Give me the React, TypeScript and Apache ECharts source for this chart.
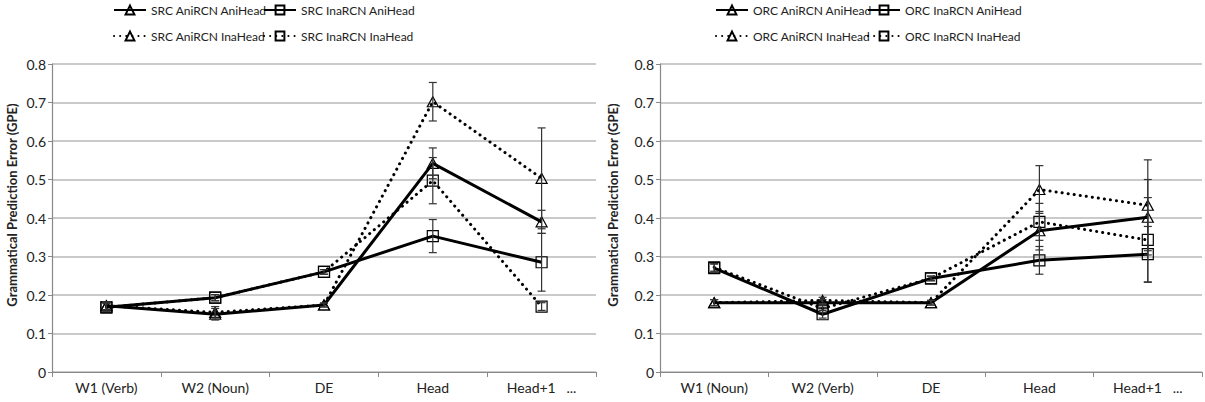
import { useEffect, useRef } from 'react';
import * as echarts from 'echarts';

// categories
const srcCategories = ['W1 (Verb)', 'W2 (Noun)', 'DE', 'Head', 'Head+1   ...'];
const orcCategories = ['W1 (Noun)', 'W2 (Verb)', 'DE', 'Head', 'Head+1   ...'];

// subject relative clauses
const srcAniAni = [0.172, 0.15, 0.174, 0.542, 0.39];
const srcInaAni = [0.168, 0.193, 0.26, 0.353, 0.285];
const srcAniIna = [0.172, 0.155, 0.174, 0.702, 0.503];
const srcInaIna = [0.168, 0.193, 0.26, 0.497, 0.17];
const srcAniAniErr = [0.01, 0.015, 0.005, 0.04, 0.03];
const srcInaAniErr = [0.01, 0.008, 0.006, 0.043, 0.075];
const srcAniInaErr = [0.01, 0.015, 0.005, 0.05, 0.131];
const srcInaInaErr = [0.01, 0.008, 0.006, 0.06, 0.01];

// object relative clauses
const orcAniAni = [0.18, 0.18, 0.18, 0.367, 0.402];
const orcInaAni = [0.27, 0.15, 0.243, 0.29, 0.306];
const orcAniIna = [0.18, 0.186, 0.18, 0.474, 0.433];
const orcInaIna = [0.272, 0.165, 0.243, 0.39, 0.343];
const orcAniAniErr = [0.008, 0.008, 0.006, 0.05, 0.098];
const orcInaAniErr = [0.01, 0.01, 0.006, 0.036, 0.072];
const orcAniInaErr = [0.008, 0.008, 0.006, 0.062, 0.118];
const orcInaInaErr = [0.01, 0.01, 0.006, 0.048, 0.11];

const yTicks = ['0', '0.1', '0.2', '0.3', '0.4', '0.5', '0.6', '0.7', '0.8'];

const FONT = 'Lato, "Open Sans", sans-serif';

function lineSeries(name: string, data: number[], idx: number, symbol: string, dotted: boolean) {
    return {
        name,
        type: 'line',
        xAxisIndex: idx,
        yAxisIndex: idx,
        data,
        symbol,
        symbolSize: symbol === 'triangle' ? [11, 10] : 11,
        lineStyle: {
            color: '#000',
            width: 3,
            type: dotted ? [0.1, 6] : 'solid',
            cap: dotted ? 'round' : 'butt',
        },
        itemStyle: { color: 'rgba(255,255,255,0)', borderColor: '#000', borderWidth: 1.2 },
        emphasis: { disabled: true },
        z: 3,
    };
}

function errorSeries(values: number[], errs: number[], idx: number) {
    return {
        type: 'custom',
        xAxisIndex: idx,
        yAxisIndex: idx,
        data: values.map((v, i) => [i, v - errs[i], v + errs[i]]),
        encode: { x: 0, y: [1, 2] },
        renderItem: (params: any, api: any) => {
            const lo = api.coord([api.value(0), api.value(1)]);
            const hi = api.coord([api.value(0), api.value(2)]);
            const half = 4;
            const style = { stroke: '#333', lineWidth: 1.2 };
            return {
                type: 'group',
                children: [
                    { type: 'line', shape: { x1: lo[0], y1: lo[1], x2: hi[0], y2: hi[1] }, style },
                    { type: 'line', shape: { x1: hi[0] - half, y1: hi[1], x2: hi[0] + half, y2: hi[1] }, style },
                    { type: 'line', shape: { x1: lo[0] - half, y1: lo[1], x2: lo[0] + half, y2: lo[1] }, style },
                ],
            };
        },
        silent: true,
        z: 4,
    };
}

function axes(categories: string[][]) {
    const xAxis = categories.map((cats, i) => ({
        type: 'category',
        gridIndex: i,
        data: cats,
        boundaryGap: true,
        axisLine: { show: true, lineStyle: { color: '#888', width: 1.2 } },
        axisTick: { show: true, length: 5, lineStyle: { color: '#888' } },
        axisLabel: { color: '#222', fontSize: 14, fontFamily: FONT, margin: 8 },
        splitLine: { show: false },
    }));
    const yAxis = categories.map((_, i) => ({
        type: 'value',
        gridIndex: i,
        min: 0,
        max: 0.8,
        interval: 0.1,
        axisLine: { show: true, lineStyle: { color: '#888', width: 1.2 } },
        axisTick: { show: true, length: 4, lineStyle: { color: '#888' } },
        axisLabel: {
            color: '#222',
            fontSize: 14,
            fontFamily: FONT,
            margin: 6,
            formatter: (v: number) => yTicks[Math.round(v * 10)] ?? '',
        },
        splitLine: { show: true, lineStyle: { color: '#b8b8b8', width: 1.5 } },
    }));
    return { xAxis, yAxis };
}

function legendItem(name: string, left: number, top: number) {
    return {
        data: [name],
        left,
        top,
        padding: 0,
        itemWidth: 32,
        itemHeight: 11,
        itemGap: 0,
        selectedMode: false,
        textStyle: { color: '#222', fontSize: 12, fontFamily: FONT },
    };
}

function yTitle(x: number) {
    return {
        type: 'text',
        x,
        y: 205,
        rotation: Math.PI / 2,
        style: {
            text: 'Grammatical Prediction Error (GPE)',
            fontSize: 13,
            fontWeight: 'bold',
            fontFamily: FONT,
            fill: '#222',
            align: 'center',
            verticalAlign: 'middle',
        },
    };
}

export default function App() {
    const chartRef = useRef<HTMLDivElement>(null);

    useEffect(() => {
        if (!chartRef.current) return;
        const chart = echarts.init(chartRef.current, null, { renderer: 'svg' });
        const { xAxis, yAxis } = axes([srcCategories, orcCategories]);

        const option = {
            animation: false,
            backgroundColor: '#fff',
            grid: [
                { left: 52, top: 64, width: 544, height: 308 },
                { left: 660, top: 64, width: 542, height: 308 },
            ],
            xAxis,
            yAxis,
            legend: [
                legendItem('SRC AniRCN AniHead', 113, 4),
                legendItem('SRC InaRCN AniHead', 263, 4),
                legendItem('SRC AniRCN InaHead', 113, 30),
                legendItem('SRC InaRCN InaHead', 263, 30),
                legendItem('ORC AniRCN AniHead', 715, 4),
                legendItem('ORC InaRCN AniHead', 867, 4),
                legendItem('ORC AniRCN InaHead', 715, 30),
                legendItem('ORC InaRCN InaHead', 867, 30),
            ],
            graphic: [yTitle(12), yTitle(613)],
            series: [
                lineSeries('SRC AniRCN AniHead', srcAniAni, 0, 'triangle', false),
                lineSeries('SRC InaRCN AniHead', srcInaAni, 0, 'rect', false),
                lineSeries('SRC AniRCN InaHead', srcAniIna, 0, 'triangle', true),
                lineSeries('SRC InaRCN InaHead', srcInaIna, 0, 'rect', true),
                errorSeries(srcAniAni, srcAniAniErr, 0),
                errorSeries(srcInaAni, srcInaAniErr, 0),
                errorSeries(srcAniIna, srcAniInaErr, 0),
                errorSeries(srcInaIna, srcInaInaErr, 0),
                lineSeries('ORC AniRCN AniHead', orcAniAni, 1, 'triangle', false),
                lineSeries('ORC InaRCN AniHead', orcInaAni, 1, 'rect', false),
                lineSeries('ORC AniRCN InaHead', orcAniIna, 1, 'triangle', true),
                lineSeries('ORC InaRCN InaHead', orcInaIna, 1, 'rect', true),
                errorSeries(orcAniAni, orcAniAniErr, 1),
                errorSeries(orcInaAni, orcInaAniErr, 1),
                errorSeries(orcAniIna, orcAniInaErr, 1),
                errorSeries(orcInaIna, orcInaInaErr, 1),
            ],
        };

        chart.setOption(option);

        return () => {
            chart.dispose();
        };
    }, []);

    return (
        <div
            ref={chartRef}
            style={{ position: 'absolute', left: 0, top: 0, width: 1205, height: 402, background: '#fff' }}
        />
    );
}
